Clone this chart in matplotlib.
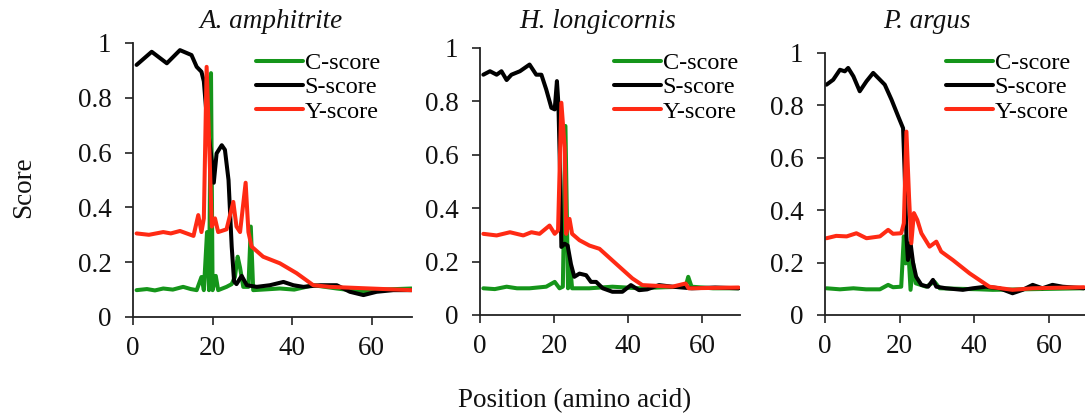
import matplotlib
matplotlib.use("Agg")
import matplotlib.pyplot as plt

plt.rcParams['font.family'] = ['Liberation Serif', 'DejaVu Serif']

# ---------------- data ----------------
species = ["A. amphitrite", "H. longicornis", "P. argus"]
series_names = ["C-score", "S-score", "Y-score"]
x_ticks = [0, 20, 40, 60]
x_tick_labels = ["0", "20", "40", "60"]
y_ticks = [0, 0.2, 0.4, 0.6, 0.8, 1.0]
y_tick_labels = ["0", "0.2", "0.4", "0.6", "0.8", "1"]

# A. amphitrite
amp_c_pos = [0.9, 3.5, 5.5, 7.6, 10.0, 12.6, 14.5, 16.0, 17.2, 17.8, 18.6, 19.1, 19.6, 20.0, 20.8, 21.4, 23.5,
             24.8, 25.6, 26.3, 26.9, 27.7, 29.0, 29.6, 30.2, 32.5, 36.9, 40.5, 45.3, 51.2, 57.9, 62.5, 70.0]
amp_c_val = [0.098, 0.102, 0.097, 0.104, 0.1, 0.11, 0.102, 0.098, 0.146, 0.098, 0.31, 0.098, 0.89, 0.098, 0.15,
             0.098, 0.11, 0.12, 0.146, 0.22, 0.18, 0.11, 0.11, 0.33, 0.098, 0.1, 0.104, 0.1, 0.116, 0.104, 0.092,
             0.1, 0.104]
amp_s_pos = [0.9, 4.7, 8.5, 11.8, 14.7, 16.0, 17.2, 17.8, 18.7, 19.8, 20.3, 21.0, 22.3, 23.1, 24.0, 24.8, 25.4,
             26.0, 27.3, 28.6, 31.1, 34.4, 37.8, 40.3, 42.8, 47.0, 51.2, 54.5, 57.9, 61.2, 65.4, 70.0]
amp_s_val = [0.92, 0.968, 0.926, 0.974, 0.956, 0.913, 0.895, 0.86, 0.7, 0.57, 0.49, 0.597, 0.627, 0.61, 0.5, 0.257,
             0.13, 0.12, 0.15, 0.116, 0.11, 0.116, 0.128, 0.116, 0.11, 0.116, 0.116, 0.092, 0.08, 0.092, 0.098,
             0.098]
amp_y_pos = [0.9, 4.0, 7.6, 9.5, 11.8, 15.2, 16.4, 17.2, 17.8, 18.5, 19.3, 19.8, 20.6, 21.4, 23.5, 25.2, 26.0,
             26.9, 28.3, 29.0, 29.8, 32.7, 36.9, 41.1, 45.3, 49.5, 57.9, 70.0]
amp_y_val = [0.305, 0.3, 0.31, 0.305, 0.314, 0.296, 0.372, 0.31, 0.36, 0.913, 0.56, 0.33, 0.36, 0.31, 0.32, 0.42,
             0.33, 0.31, 0.49, 0.31, 0.257, 0.22, 0.196, 0.16, 0.116, 0.11, 0.105, 0.098]

# H. longicornis
lon_c_pos = [0.9, 4.0, 7.2, 10.0, 13.4, 17.9, 20.2, 21.5, 22.4, 23.1, 23.8, 24.4, 24.9, 29.6, 35.8, 43.0, 50.0,
             55.6, 56.3, 57.2, 63.0, 69.9]
lon_c_val = [0.1, 0.097, 0.106, 0.1, 0.1, 0.106, 0.124, 0.1, 0.106, 0.708, 0.1, 0.18, 0.1, 0.1, 0.106, 0.1, 0.104,
             0.106, 0.143, 0.106, 0.1, 0.1]
lon_s_pos = [0.9, 2.7, 4.5, 5.8, 7.2, 8.5, 10.8, 13.4, 15.2, 16.6, 17.9, 19.3, 20.2, 20.8, 21.2, 21.7, 22.0,
             22.9, 23.7, 24.6, 25.5, 26.9, 28.7, 30.0, 31.4, 33.2, 35.8, 38.5, 40.8, 43.0, 45.2, 48.4, 52.0,
             57.3, 63.6, 69.9]
lon_s_val = [0.90, 0.913, 0.90, 0.913, 0.88, 0.90, 0.913, 0.938, 0.90, 0.90, 0.845, 0.776, 0.77, 0.876, 0.79,
             0.503, 0.255, 0.267, 0.26, 0.19, 0.143, 0.155, 0.149, 0.124, 0.124, 0.1, 0.087, 0.087, 0.112, 0.093,
             0.096, 0.112, 0.106, 0.1, 0.103, 0.1]
lon_y_pos = [0.9, 4.5, 8.1, 11.7, 13.9, 16.1, 18.8, 20.2, 21.1, 22.0, 22.9, 23.3, 24.2, 24.9, 26.9, 29.6, 32.3,
             36.7, 41.2, 43.9, 52.0, 55.6, 56.4, 69.9]
lon_y_val = [0.304, 0.298, 0.31, 0.298, 0.31, 0.304, 0.335, 0.304, 0.317, 0.795, 0.627, 0.304, 0.36, 0.304, 0.28,
             0.26, 0.248, 0.193, 0.137, 0.112, 0.106, 0.118, 0.1, 0.103]

# P. argus
arg_c_pos = [0.4, 4.0, 7.6, 11.0, 14.7, 16.9, 18.2, 20.4, 21.1, 21.6, 22.2, 22.9, 23.6, 24.3, 27.1, 29.3, 30.7,
             36.0, 41.3, 44.9, 69.3]
arg_c_val = [0.102, 0.098, 0.102, 0.098, 0.098, 0.115, 0.106, 0.108, 0.3, 0.197, 0.274, 0.096, 0.197, 0.121, 0.108,
             0.127, 0.102, 0.1, 0.098, 0.096, 0.102]
arg_s_pos = [0.4, 2.2, 4.0, 5.3, 6.2, 7.6, 9.3, 11.1, 12.9, 14.7, 16.0, 17.8, 19.6, 20.9, 21.3, 21.8, 22.2, 22.9,
             23.6, 24.4, 25.8, 27.6, 28.9, 29.8, 32.4, 36.9, 39.6, 43.1, 46.7, 50.2, 52.9, 55.6, 58.2, 60.9,
             63.6, 69.3]
arg_s_val = [0.879, 0.898, 0.936, 0.93, 0.943, 0.911, 0.854, 0.892, 0.924, 0.898, 0.879, 0.822, 0.758, 0.713,
             0.554, 0.3, 0.21, 0.274, 0.197, 0.146, 0.115, 0.108, 0.134, 0.108, 0.102, 0.096, 0.102, 0.108, 0.102,
             0.083, 0.096, 0.115, 0.102, 0.115, 0.108, 0.102]
arg_y_pos = [0.4, 3.0, 5.8, 8.4, 11.1, 14.7, 16.9, 18.2, 20.4, 21.1, 21.8, 22.5, 23.1, 23.8, 24.7, 25.8, 28.0,
             29.8, 31.1, 34.2, 38.7, 44.0, 50.2, 55.6, 69.3]
arg_y_val = [0.293, 0.302, 0.3, 0.312, 0.293, 0.3, 0.325, 0.31, 0.312, 0.35, 0.70, 0.45, 0.274, 0.389, 0.363,
             0.312, 0.261, 0.28, 0.242, 0.21, 0.159, 0.108, 0.096, 0.102, 0.106]

panels = [
    [(amp_c_pos, amp_c_val), (amp_s_pos, amp_s_val), (amp_y_pos, amp_y_val)],
    [(lon_c_pos, lon_c_val), (lon_s_pos, lon_s_val), (lon_y_pos, lon_y_val)],
    [(arg_c_pos, arg_c_val), (arg_s_pos, arg_s_val), (arg_y_pos, arg_y_val)],
]

# ---------------- style / layout ----------------
W, H = 1085, 416
colors = ["#15951a", "#000000", "#ff2a14"]
# pixel boxes: left, right, top, bottom, xmax
boxes = [(133, 412, 43, 317, 70.1), (480, 740, 48, 315, 70.3), (825, 1085, 53, 315, 69.6)]
title_pos = [(271, 28), (598, 28), (927, 28)]
legend_pos = [(256, 52), (614, 52), (946, 52)]
FS = 19.5

fig = plt.figure(figsize=(W / 100, H / 100), dpi=100)
for i, (l, r, t, b, xmax) in enumerate(boxes):
    ax = fig.add_axes([l / W, 1 - b / H, (r - l) / W, (b - t) / H])
    for (xs, ys), c, name in zip(panels[i], colors, series_names):
        ax.plot(xs, ys, color=c, lw=2.9, label=name, solid_joinstyle='round', solid_capstyle='round')
    ax.set_xlim(0, xmax)
    ax.set_ylim(0, 1)
    ax.set_xticks(x_ticks)
    ax.set_xticklabels(x_tick_labels)
    ax.set_yticks(y_ticks)
    ax.set_yticklabels(y_tick_labels)
    for s in ["top", "right"]:
        ax.spines[s].set_visible(False)
    for s in ["left", "bottom"]:
        ax.spines[s].set_color("#222222")
        ax.spines[s].set_linewidth(1.3)
    ax.tick_params(axis='x', direction='out', length=5.5, width=1.2, color="#222222", pad=8.5, labelsize=FS)
    ax.tick_params(axis='y', direction='out', length=5.5, width=1.2, color="#222222", pad=10, labelsize=FS)
    for lab in ax.get_xticklabels() + ax.get_yticklabels():
        lab.set_color("#111111")
    tx, ty = title_pos[i]
    fig.text(tx / W, 1 - ty / H, species[i], ha='center', va='baseline', fontsize=FS, style='italic',
             color="#111111")
    lx, ly = legend_pos[i]
    ax.legend(loc='upper left', bbox_to_anchor=(lx / W, 1 - ly / H), bbox_transform=fig.transFigure,
              frameon=False, fontsize=17.5, borderpad=0, borderaxespad=0, handlelength=1.95,
              handletextpad=0.05, labelspacing=0.1)

fig.text(24 / W, 1 - 187 / H, "Score", rotation=90, ha='center', va='center', fontsize=FS, color="#111111")
fig.text(575 / W, 1 - 407 / H, "Position (amino acid)", ha='center', va='baseline', fontsize=FS, color="#111111")

fig.savefig("out.png", dpi=100)
